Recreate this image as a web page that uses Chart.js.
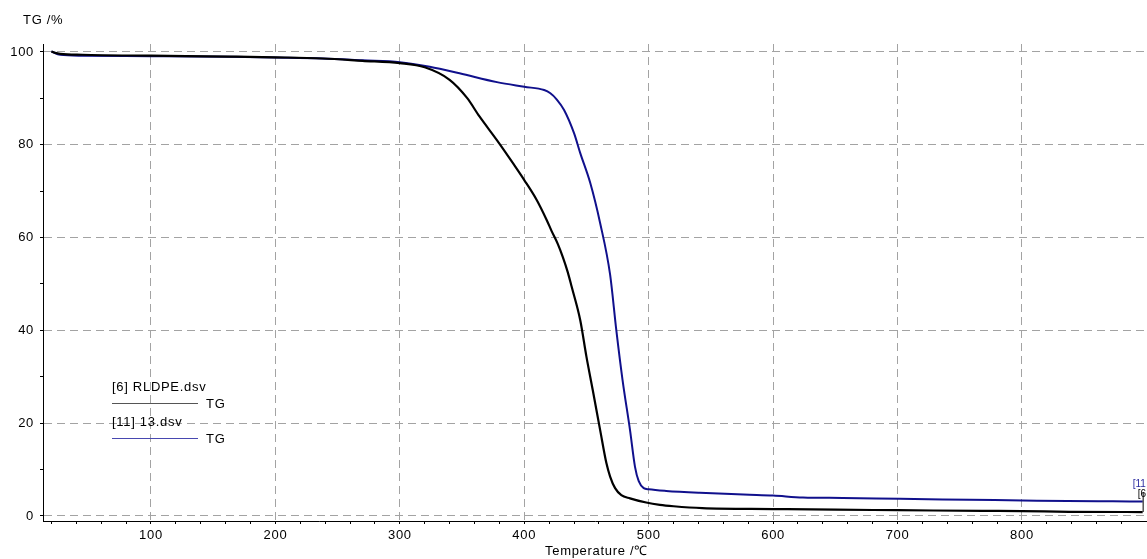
<!DOCTYPE html>
<html>
<head>
<meta charset="utf-8">
<script src="https://cdn.jsdelivr.net/npm/chart.js@4/dist/chart.umd.min.js"></script>
<style>
  html, body { margin: 0; padding: 0; background: #fff; }
  #wrap { width: 1147px; height: 559px; }
</style>
</head>
<body>
<div id="wrap"><canvas id="tgChart" width="1147" height="559"></canvas></div>
<script>
// [6] RLDPE.dsv - temperature (C) and TG (%)
const rldpeTemp = [20, 23, 27, 45, 100, 163, 200, 238, 270, 300, 320, 340, 354, 364, 378, 392, 400, 410, 418, 422, 427, 431, 435, 438, 445, 450, 455, 461, 466, 469, 473, 478, 485, 498, 509, 520, 543, 600, 650, 700, 768, 800, 838, 897];
const rldpeTG = [100.1, 99.8, 99.6, 99.4, 99.2, 99.0, 98.85, 98.6, 98.1, 97.6, 96.7, 94.0, 90.1, 86.1, 81.0, 75.6, 72.4, 68.1, 63.8, 61.4, 58.6, 55.8, 52.5, 49.5, 42.2, 34.3, 27.2, 18.5, 11.4, 8.5, 6.0, 4.5, 3.8, 2.9, 2.4, 2.1, 1.7, 1.5, 1.35, 1.25, 1.1, 1.05, 0.9, 0.85];

// [11] 13.dsv
const s13Temp = [20, 27, 45, 100, 163, 200, 238, 270, 300, 324, 348, 378, 400, 416, 421, 426, 432, 440, 445, 453, 461, 469, 474, 479, 485, 489, 492, 496, 500, 514, 541, 581, 600, 624, 656, 702, 758, 812, 873, 897];
const s13TG = [100.1, 99.4, 99.2, 99.1, 98.95, 98.8, 98.6, 98.2, 97.8, 96.8, 95.4, 93.5, 92.5, 91.8, 91.1, 89.8, 87.5, 82.5, 78.2, 71.8, 63.1, 52.0, 40.0, 29.3, 18.5, 10.6, 7.5, 6.0, 5.75, 5.4, 5.0, 4.6, 4.4, 4.0, 3.9, 3.7, 3.5, 3.3, 3.15, 3.1];

const seriesNames = ['[6] RLDPE.dsv', '[11] 13.dsv'];
const endTags = ['[6', '[11'];
const xLabels = [100, 200, 300, 400, 500, 600, 700, 800];
const yLabels = [0, 20, 40, 60, 80, 100];

// minor ticks every 20 C / 10 %
const xTickValues = [];
for (let v = 20; v <= 880; v += 20) xTickValues.push(v);
const yTickValues = [];
for (let v = 0; v <= 100; v += 10) yTickValues.push(v);

const FONT = '"Liberation Sans", Arial, Helvetica, sans-serif';
const gridGrey = '#a3a3a3';

const textPlugin = {
  id: 'textPlugin',
  beforeDraw(chart) {
    const ctx = chart.ctx;
    ctx.fillStyle = '#fff';
    ctx.fillRect(0, 0, chart.width, chart.height);
    ctx.letterSpacing = '0.7px';
  },
  afterDraw(chart) {
    const ctx = chart.ctx;
    ctx.save();
    ctx.letterSpacing = '0.7px';
    ctx.textBaseline = 'middle';
    ctx.textAlign = 'left';
    ctx.fillStyle = '#000';
    ctx.font = '13px ' + FONT;
    // axis titles
    ctx.fillText('TG /%', 23, 20);
    ctx.fillText('Temperature /\u2103', 545, 551);

    // legend
    ctx.fillText(seriesNames[0], 112, 387);
    ctx.fillText('TG', 206, 404);
    ctx.fillText(seriesNames[1], 112, 422);
    ctx.fillText('TG', 206, 439);
    ctx.lineWidth = 1;
    ctx.strokeStyle = '#555';
    ctx.beginPath(); ctx.moveTo(112, 403.5); ctx.lineTo(198, 403.5); ctx.stroke();
    ctx.strokeStyle = '#4848b0';
    ctx.beginPath(); ctx.moveTo(112, 438.5); ctx.lineTo(198, 438.5); ctx.stroke();

    // curve end tags
    const blackEnd = chart.getDatasetMeta(0).data.at(-1);
    const blueEnd = chart.getDatasetMeta(1).data.at(-1);
    ctx.font = '10px ' + FONT;
    ctx.letterSpacing = '0px';
    ctx.fillStyle = '#2a2aa0';
    ctx.fillText(endTags[1], blueEnd.x - 10, blueEnd.y - 17);
    ctx.fillStyle = '#000';
    ctx.fillText(endTags[0], blackEnd.x - 5, blackEnd.y - 18);
    ctx.strokeStyle = '#000';
    ctx.beginPath();
    ctx.moveTo(blackEnd.x + 0.5, blackEnd.y);
    ctx.lineTo(blackEnd.x + 0.5, blackEnd.y - 20);
    ctx.stroke();
    ctx.restore();
  }
};

const ctx = document.getElementById('tgChart');

new Chart(ctx, {
  type: 'line',
  data: {
    datasets: [{
      label: seriesNames[0],
      data: rldpeTemp.map((t, i) => ({ x: t, y: rldpeTG[i] })),
      borderColor: '#000',
      borderWidth: 2.2,
      pointRadius: 0,
      cubicInterpolationMode: 'monotone',
      fill: false
    }, {
      label: seriesNames[1],
      data: s13Temp.map((t, i) => ({ x: t, y: s13TG[i] })),
      borderColor: '#10108c',
      borderWidth: 2,
      pointRadius: 0,
      cubicInterpolationMode: 'monotone',
      fill: false
    }]
  },
  options: {
    responsive: false,
    animation: false,
    layout: { padding: { top: 44, right: 0, left: 0, bottom: 0 } },
    plugins: {
      legend: { display: false },
      tooltip: { enabled: false }
    },
    scales: {
      x: {
        type: 'linear',
        min: 13.2,
        max: 900.5,
        afterBuildTicks: s => { s.ticks = xTickValues.map(v => ({ value: v })); },
        afterFit: s => { s.height = 38; },
        ticks: {
          autoSkip: false,
          maxRotation: 0,
          padding: 4,
          color: '#000',
          font: { family: FONT, size: 13 },
          callback: v => xLabels.includes(v) ? String(v) : ''
        },
        grid: {
          color: c => (c.tick && xLabels.includes(c.tick.value)) ? gridGrey : 'rgba(0,0,0,0)',
          tickColor: '#000',
          tickLength: 3
        },
        border: { display: true, color: '#000', width: 1, dash: [8, 5] }
      },
      y: {
        min: -1.08,
        max: 101.72,
        afterBuildTicks: s => { s.ticks = yTickValues.map(v => ({ value: v })); },
        afterFit: s => { s.width = 43; },
        ticks: {
          autoSkip: false,
          padding: 6,
          color: '#000',
          font: { family: FONT, size: 13 },
          callback: v => yLabels.includes(v) ? String(v) : ''
        },
        grid: {
          color: c => (c.tick && yLabels.includes(c.tick.value)) ? gridGrey : 'rgba(0,0,0,0)',
          tickColor: '#000',
          tickLength: 3
        },
        border: { display: true, color: '#000', width: 1, dash: [8, 5] }
      }
    }
  },
  plugins: [textPlugin]
});
</script>
</body>
</html>
